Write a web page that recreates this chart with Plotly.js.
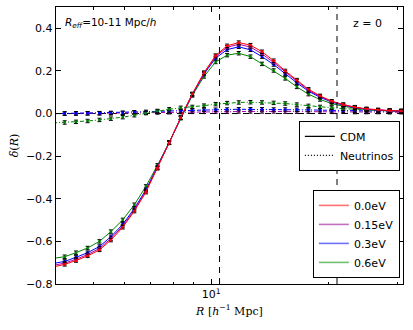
<!DOCTYPE html>
<html><head><meta charset="utf-8">
<script src="https://cdn.plot.ly/plotly-3.0.1.min.js"></script>
<style>html,body{margin:0;padding:0;background:#fff}#chart{width:413px;height:330px}</style>
</head><body><div id="chart"></div>
<script>
const R = [3.93, 4.21, 4.50, 4.82, 5.17, 5.53, 5.93, 6.35, 6.80, 7.28, 7.80, 8.35, 8.94, 9.58, 10.26, 10.98, 11.76, 12.60, 13.49, 14.45, 15.47, 16.57, 17.74, 19.00, 20.35, 21.79, 23.33, 24.99, 26.76, 28.66, 30.69];
const cdm_00 = [-0.720, -0.708, -0.690, -0.668, -0.640, -0.594, -0.534, -0.458, -0.369, -0.257, -0.138, -0.019, 0.092, 0.192, 0.272, 0.318, 0.333, 0.321, 0.290, 0.248, 0.200, 0.157, 0.114, 0.083, 0.058, 0.042, 0.030, 0.022, 0.017, 0.014, 0.012];
const cdm_015 = [-0.713, -0.702, -0.684, -0.662, -0.633, -0.587, -0.528, -0.453, -0.364, -0.255, -0.137, -0.019, 0.091, 0.189, 0.267, 0.311, 0.325, 0.312, 0.280, 0.240, 0.194, 0.152, 0.110, 0.080, 0.056, 0.041, 0.029, 0.021, 0.016, 0.013, 0.012];
const cdm_03 = [-0.704, -0.694, -0.675, -0.653, -0.624, -0.578, -0.520, -0.446, -0.358, -0.251, -0.137, -0.020, 0.089, 0.185, 0.260, 0.300, 0.313, 0.299, 0.267, 0.230, 0.186, 0.144, 0.105, 0.076, 0.054, 0.039, 0.028, 0.020, 0.016, 0.013, 0.011];
const cdm_06 = [-0.680, -0.672, -0.653, -0.631, -0.600, -0.554, -0.499, -0.428, -0.342, -0.243, -0.135, -0.022, 0.085, 0.174, 0.242, 0.274, 0.283, 0.267, 0.233, 0.202, 0.165, 0.125, 0.091, 0.066, 0.047, 0.034, 0.025, 0.018, 0.014, 0.011, 0.010];
const nu_015 = [0.000, 0.000, 0.000, 0.001, 0.001, 0.001, 0.002, 0.003, 0.004, 0.005, 0.006, 0.007, 0.008, 0.008, 0.009, 0.009, 0.010, 0.010, 0.010, 0.010, 0.009, 0.009, 0.009, 0.008, 0.008, 0.008, 0.007, 0.007, 0.007, 0.006, 0.006];
const nu_03 = [-0.001, 0.000, 0.001, 0.001, 0.002, 0.003, 0.004, 0.006, 0.008, 0.010, 0.012, 0.014, 0.016, 0.017, 0.018, 0.019, 0.020, 0.020, 0.020, 0.019, 0.019, 0.018, 0.017, 0.016, 0.015, 0.014, 0.013, 0.012, 0.011, 0.011, 0.010];
const nu_06 = [-0.044, -0.042, -0.039, -0.035, -0.030, -0.024, -0.017, -0.008, 0.002, 0.012, 0.020, 0.027, 0.031, 0.037, 0.044, 0.049, 0.052, 0.053, 0.052, 0.050, 0.047, 0.042, 0.036, 0.031, 0.027, 0.023, 0.020, 0.017, 0.015, 0.013, 0.012];
const massLabels = ['0.0eV', '0.15eV', '0.3eV', '0.6eV'];
const refLines = [10.5, 21.0];
const xTickVals = [10];
const xTickText = ['10<sup>1</sup>'];
const xMinorVals = [4, 5, 6, 7, 8, 9, 20, 30];

const colors = ['#ff0000', '#b000b0', '#0000ff', '#008000'];
const legendColors = ['#ff7070', '#c070c0', '#7070ff', '#70c070'];

const traces = [];
function curve(y, color, dash) {
  return {
    x: R, y: y, type: 'scatter', mode: 'lines+markers', showlegend: false,
    line: {color: color, width: 1, dash: dash},
    marker: {symbol: 'square', size: 2.5, color: color},
    error_y: {type: 'constant', value: 0.008, color: '#000', thickness: 1, width: 2},
    cliponaxis: true
  };
}
[nu_015, nu_03, nu_06].forEach((y, i) => traces.push(curve(y, colors[i + 1], '4px,2px,1px,2px')));
[cdm_06, cdm_03, cdm_015, cdm_00].forEach((y, i) => traces.push(curve(y, colors[3 - i], 'solid')));

traces.push({x: [null], y: [null], type: 'scatter', mode: 'lines', name: 'CDM', line: {color: '#000', width: 1.2}, legend: 'legend'});
traces.push({x: [null], y: [null], type: 'scatter', mode: 'lines', name: 'Neutrinos', line: {color: '#000', width: 1.2, dash: '1px,2px'}, legend: 'legend'});
massLabels.forEach((lab, i) => traces.push({x: [null], y: [null], type: 'scatter', mode: 'lines', name: lab, line: {color: legendColors[i], width: 1.6}, legend: 'legend2'}));

const shapes = refLines.map(v => ({type: 'line', xref: 'x', yref: 'paper', x0: v, x1: v, y0: 0, y1: 1, line: {color: '#000', width: 1, dash: '6px,5px'}}));
shapes.push({type: 'line', xref: 'paper', yref: 'y', x0: 0, x1: 1, y0: 0, y1: 0, line: {color: '#000', width: 1, dash: '6px,5px'}, layer: 'below'});

const font = {family: 'DejaVu Sans', size: 11, color: '#000'};
const layout = {
  width: 413, height: 330,
  margin: {l: 56, r: 10, t: 7, b: 46},
  paper_bgcolor: '#fff', plot_bgcolor: '#fff',
  font: font,
  xaxis: {
    type: 'log', range: [Math.log10(4), Math.log10(31)],
    tickmode: 'array', tickvals: xTickVals, ticktext: xTickText,
    ticks: 'inside', ticklen: 5, tickcolor: '#000', tickwidth: 1,
    minor: {tickmode: 'array', tickvals: xMinorVals, ticks: 'inside', ticklen: 2.5, tickcolor: '#000'},
    showline: true, linecolor: '#000', linewidth: 1.2, mirror: 'allticks',
    showgrid: false, zeroline: false,
    tickfont: {family: 'DejaVu Sans', size: 11},
    title: {text: '<i>R</i> [<i>h</i><sup>−1</sup> Mpc]', font: {family: 'DejaVu Serif', size: 11}, standoff: 6}
  },
  yaxis: {
    range: [-0.8, 0.5], tickvals: [-0.8, -0.6, -0.4, -0.2, 0, 0.2, 0.4], tickformat: '.1f',
    ticks: 'inside', ticklen: 5, tickcolor: '#000',
    showline: true, linecolor: '#000', linewidth: 1.2, mirror: 'allticks',
    showgrid: false, zeroline: false,
    tickfont: {family: 'DejaVu Sans', size: 11},
    title: {text: '<i>δ</i>(<i>R</i>)', font: {family: 'DejaVu Serif', size: 11}, standoff: 5}
  },
  shapes: shapes,
  annotations: [
    {xref: 'paper', yref: 'paper', x: 0.02, y: 0.942, xanchor: 'left', yanchor: 'middle', showarrow: false,
     text: '<i>R</i><sub><i>eff</i></sub>=10-11 Mpc/<i>h</i>', font: {family: 'DejaVu Sans', size: 10.5}},
    {xref: 'paper', yref: 'paper', x: 0.899, y: 0.942, xanchor: 'center', yanchor: 'middle', showarrow: false,
     text: 'z = 0', font: {family: 'DejaVu Sans', size: 11}}
  ],
  legend: {x: 0.991, y: 0.499, xanchor: 'right', yanchor: 'middle', bgcolor: '#fff', bordercolor: '#000', borderwidth: 1,
           font: {family: 'DejaVu Sans', size: 11}, itemwidth: 30, tracegroupgap: 0},
  legend2: {x: 0.991, y: 0.022, xanchor: 'right', yanchor: 'bottom', bgcolor: '#fff', bordercolor: '#000', borderwidth: 1,
           font: {family: 'DejaVu Sans', size: 11}, itemwidth: 30, tracegroupgap: 0},
  showlegend: true
};
Plotly.newPlot('chart', traces, layout, {staticPlot: true, displayModeBar: false});
</script></body></html>
